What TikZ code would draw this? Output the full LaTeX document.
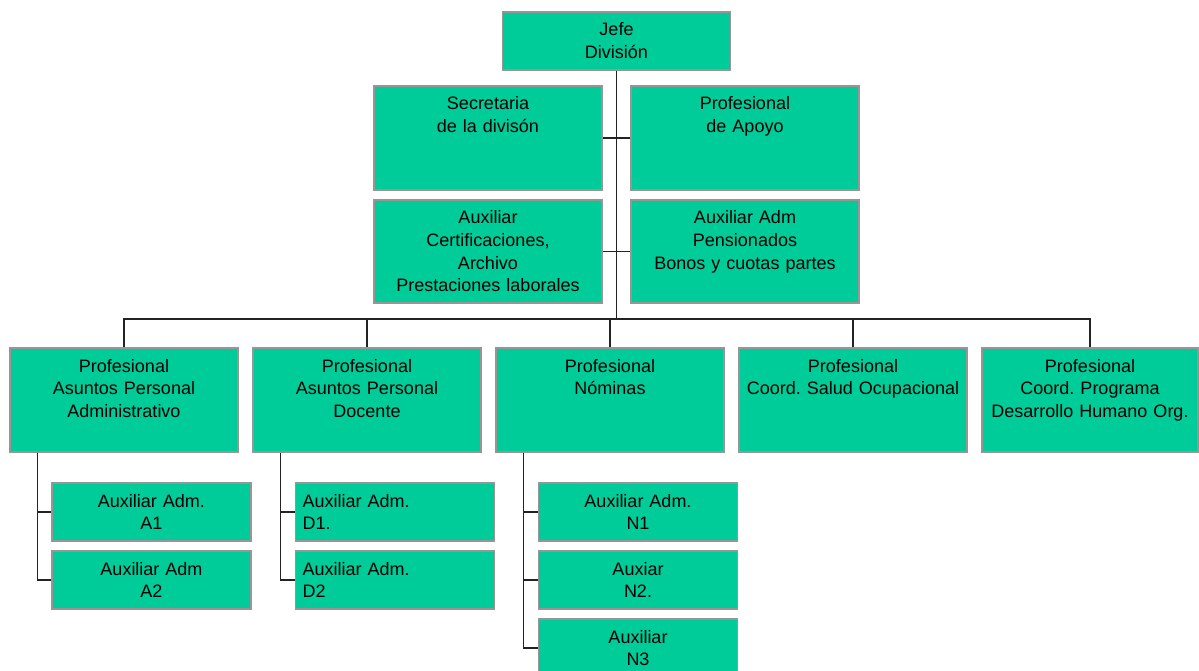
\documentclass[tikz,border=0pt]{standalone}
\usepackage{fontspec}
\setmainfont{Liberation Sans}
\frenchspacing
\definecolor{verde}{RGB}{0,204,153}
\definecolor{gris}{RGB}{150,150,150}
\definecolor{linea}{RGB}{35,35,35}

\tikzset{
  caja/.style={draw=gris, fill=verde, line width=1.5pt, inner xsep=0pt, inner ysep=0pt,
    text width=228pt, align=center, text height=24pt, text depth=80pt,
    font=\fontsize{18}{22.5}\selectfont},
  baja/.style={caja, text width=199pt, text depth=34pt},
  conector/.style={draw=linea, line width=1.5pt}
}

\begin{document}
\begin{tikzpicture}[x=1pt,y=-1pt]
\useasboundingbox (0,0) rectangle (1199,671);

% jefe y apoyo
\node [caja, text depth=34pt] (jefe) at (616.5,41) {Jefe\\División};
\node [caja] (secre) at (488,138) {Secretaria\\de la divisón};
\node [caja] (apoyo) at (745,138) {Profesional\\de Apoyo};
\node [caja, text depth=79pt] (certif) at (488,251.5) {Auxiliar\\Certificaciones,\\Archivo\\Prestaciones laborales};
\node [caja, text depth=79pt] (pensi) at (745,251.5) {Auxiliar Adm\\Pensionados\\Bonos y cuotas partes};

% profesionales
\node [caja] (padmin) at (124,400) {Profesional\\Asuntos Personal\\Administrativo};
\node [caja] (pdocen) at (367,400) {Profesional\\Asuntos Personal\\Docente};
\node [caja] (pnomin) at (610,400) {Profesional\\Nóminas};
\node [caja] (psalud) at (853,400) {Profesional\\Coord. Salud Ocupacional};
\node [caja, text width=216pt] (pdesar) at (1090,400) {Profesional\\Coord. Programa\\Desarrollo Humano Org.};

% auxiliares
\node [baja] (auxa1) at (151.5,512) {Auxiliar Adm.\\A1};
\node [baja] (auxa2) at (151.5,580) {Auxiliar Adm\\A2};
\node [baja, align=left, text width=185pt, inner xsep=7pt] (auxd1) at (395,512) {Auxiliar Adm.\\D1.};
\node [baja, align=left, text width=185pt, inner xsep=7pt] (auxd2) at (395,580) {Auxiliar Adm.\\D2};
\node [baja] (auxn1) at (638,512) {Auxiliar Adm.\\N1};
\node [baja] (auxn2) at (638,580) {Auxiar\\N2.};
\node [baja] (auxn3) at (638,648) {Auxiliar\\N3};

\coordinate (bus) at (617,319);

\draw [conector] (jefe.south) -- (jefe.south |- bus);
\draw [conector] (secre) -- (apoyo);
\draw [conector] (certif) -- (pensi);
\draw [conector] (padmin.north) |- (bus) -| (pdesar.north);
\draw [conector] (pdocen.north) -- (pdocen.north |- bus);
\draw [conector] (pnomin.north) -- (pnomin.north |- bus);
\draw [conector] (psalud.north) -- (psalud.north |- bus);

\draw [conector] ([xshift=28pt]padmin.south west) |- (auxa2.west);
\draw [conector] (auxa1.west) -| ([xshift=28pt]padmin.south west);
\draw [conector] ([xshift=28pt]pdocen.south west) |- (auxd2.west);
\draw [conector] (auxd1.west) -| ([xshift=28pt]pdocen.south west);
\draw [conector] ([xshift=28pt]pnomin.south west) |- (auxn3.west);
\draw [conector] (auxn1.west) -| ([xshift=28pt]pnomin.south west);
\draw [conector] (auxn2.west) -| ([xshift=28pt]pnomin.south west);

\end{tikzpicture}
\end{document}
